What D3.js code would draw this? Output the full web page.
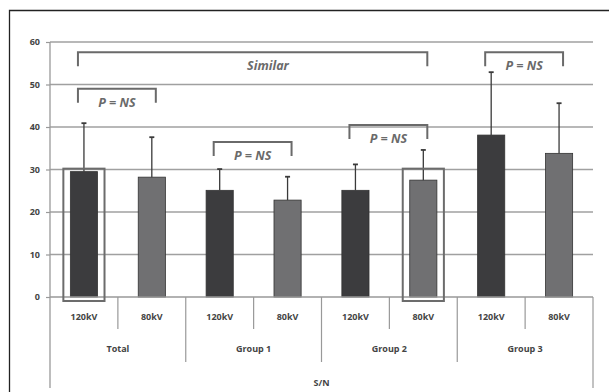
<!DOCTYPE html>
<html>
<head>
<meta charset="utf-8">
<script src="https://cdn.jsdelivr.net/npm/d3@7"></script>
<style>
  body { margin: 0; background: #fff; }
  svg text { font-family: "Open Sans", "Liberation Sans", sans-serif; }
</style>
</head>
<body>
<div id="chart"></div>
<script>
const groups = ["Total", "Group 1", "Group 2", "Group 3"];
const levels = ["120kV", "80kV"];
const means = [29.5, 28.2, 25.1, 22.8, 25.1, 27.5, 38.1, 33.8];
const errTops = [40.9, 37.6, 30.1, 28.3, 31.2, 34.6, 52.9, 45.6];
const yTicks = [0, 10, 20, 30, 40, 50, 60];
// brackets: [from bar, to bar, label]
const brackets = [
  [0, 5, "Similar"],
  [0, 1, "P = NS"],
  [2, 3, "P = NS"],
  [4, 5, "P = NS"],
  [6, 7, "P = NS"]
];
const bracketTops = [57.6, 49, 36.5, 40.5, 57.6];
const highlighted = [0, 5];
const highlightTop = 30.2;

const width = 609, height = 392;
const m = { left: 50, right: 16, top: 42, axis: 297 };

const svg = d3.select("#chart").append("svg")
  .attr("width", width).attr("height", height);

// outer frame (cut off at the right and bottom)
svg.append("path")
  .attr("d", `M9.5,${height} V10.5 H${width}`)
  .attr("fill", "none").attr("stroke", "#222").attr("stroke-width", 1.3);

const bars = [];
groups.forEach(g => levels.forEach(l => bars.push(g + "|" + l)));

const x = d3.scaleBand().domain(bars).range([m.left, width - m.right]);
const y = d3.scaleLinear().domain([0, 60]).range([m.axis, m.top]);
const cx = i => x(bars[i]) + x.bandwidth() / 2;
const barW = x.bandwidth() * 0.4;

// gridlines
svg.append("g").selectAll("line").data(yTicks.filter(t => t > 0)).join("line")
  .attr("x1", m.left).attr("x2", width - m.right)
  .attr("y1", d => y(d)).attr("y2", d => y(d))
  .attr("stroke", "#a0a0a0").attr("stroke-width", 1.5);

// y axis
const yAxis = svg.append("g").attr("transform", `translate(${m.left},0)`)
  .call(d3.axisLeft(y).tickValues(yTicks).tickSize(4).tickPadding(6));
yAxis.select(".domain").remove();
yAxis.selectAll("line").attr("stroke", "#999").attr("stroke-width", 1.2);
yAxis.selectAll("text").attr("font-size", 9).attr("font-weight", "bold").attr("fill", "#444");

// bars
svg.append("g").selectAll("rect").data(means).join("rect")
  .attr("x", (d, i) => cx(i) - barW / 2)
  .attr("y", d => y(d))
  .attr("width", barW)
  .attr("height", d => y(0) - y(d))
  .attr("fill", (d, i) => i % 2 === 0 ? "#3c3c3e" : "#707072")
  .attr("stroke", "#333").attr("stroke-width", 0.8);

// error bars
const eb = svg.append("g").attr("stroke", "#3a3a3a").attr("stroke-width", 1.3);
means.forEach((d, i) => {
  eb.append("line").attr("x1", cx(i)).attr("x2", cx(i))
    .attr("y1", y(d)).attr("y2", y(errTops[i]));
  eb.append("line").attr("x1", cx(i) - 2.5).attr("x2", cx(i) + 2.5)
    .attr("y1", y(errTops[i])).attr("y2", y(errTops[i])).attr("stroke-width", 1.8);
});

// y axis line
svg.append("line").attr("x1", m.left).attr("x2", m.left)
  .attr("y1", y(60)).attr("y2", 388)
  .attr("stroke", "#999").attr("stroke-width", 1.3);

// category axis baseline
svg.append("line").attr("x1", m.left).attr("x2", width - m.right)
  .attr("y1", y(0)).attr("y2", y(0))
  .attr("stroke", "#999").attr("stroke-width", 1.3);

// separators in the category axis
const sep = svg.append("g").attr("stroke", "#999").attr("stroke-width", 1.2);
bars.forEach((b, i) => {
  if (i === 0) return;
  const long = i % 2 === 0;
  sep.append("line").attr("x1", x(b)).attr("x2", x(b))
    .attr("y1", y(0)).attr("y2", long ? 362 : 329);
});
sep.append("line").attr("x1", width - m.right).attr("x2", width - m.right)
  .attr("y1", y(0)).attr("y2", 388);

// level labels
svg.append("g").selectAll("text").data(bars).join("text")
  .attr("x", (d, i) => cx(i)).attr("y", 320)
  .attr("text-anchor", "middle").attr("font-size", 9).attr("font-weight", "bold")
  .attr("fill", "#444").text(d => d.split("|")[1]);

// group labels
svg.append("g").selectAll("text").data(groups).join("text")
  .attr("x", (d, i) => (x(bars[i * 2]) + x(bars[i * 2 + 1]) + x.bandwidth()) / 2)
  .attr("y", 352)
  .attr("text-anchor", "middle").attr("font-size", 9).attr("font-weight", "bold")
  .attr("fill", "#444").text(d => d);

svg.append("text").attr("x", (m.left + width - m.right) / 2).attr("y", 386)
  .attr("text-anchor", "middle").attr("font-size", 9).attr("font-weight", "bold")
  .attr("fill", "#444").text("S/N");

// highlight boxes
svg.append("g").selectAll("rect").data(highlighted).join("rect")
  .attr("x", i => cx(i) - barW / 2 - 7)
  .attr("y", y(highlightTop))
  .attr("width", barW + 14)
  .attr("height", y(0) + 4 - y(highlightTop))
  .attr("fill", "none").attr("stroke", "#6c6c6c").attr("stroke-width", 2);

// brackets with labels
const br = svg.append("g");
brackets.forEach(([a, b, label], k) => {
  const x1 = cx(a) - 6, x2 = cx(b) + 4;
  const top = y(bracketTops[k]);
  br.append("path")
    .attr("d", `M${x1},${top + 14} V${top} H${x2} V${top + 14}`)
    .attr("fill", "none").attr("stroke", "#6a6a6a").attr("stroke-width", 2);
  const tx = label === "Similar" ? 268 : (x1 + x2) / 2;
  br.append("text").attr("x", tx).attr("y", top + 18)
    .attr("text-anchor", "middle").attr("font-size", 12.5)
    .attr("font-weight", "bold").attr("font-style", "italic")
    .attr("fill", "#6a6a6a").text(label);
});
</script>
</body>
</html>
